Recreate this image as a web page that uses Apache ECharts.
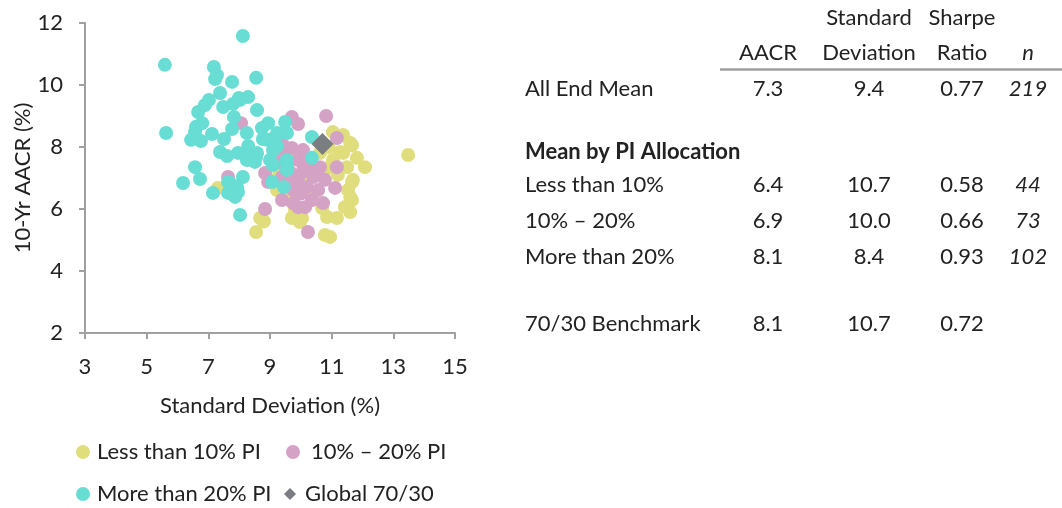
<!DOCTYPE html>
<html><head><meta charset="utf-8">
<script src="https://cdn.jsdelivr.net/npm/echarts@6/dist/echarts.min.js"></script>
<style>html,body{margin:0;padding:0;background:#fff}#c{width:1062px;height:508px}</style>
</head><body><div id="c"></div>
<script>
// ---- data ----
var xTicks = [3, 5, 7, 9, 11, 13, 15];
var yTicks = [2, 4, 6, 8, 10, 12];
var seriesNames = ['Less than 10% PI', '10% – 20% PI', 'More than 20% PI', 'Global 70/30'];
var lessThan10 = [
  [13.48,7.74],[11.04,8.48],[11.37,8.39],[11.66,8.06],[11.82,7.65],[12.08,7.35],[11.27,7.84],
  [11.04,7.58],[10.88,7.32],[11.50,7.35],[11.69,6.94],[11.53,6.61],[11.66,6.29],[11.60,5.90],
  [11.17,5.71],[10.85,5.74],[10.78,5.16],[10.95,5.10],[10.69,6.03],[10.04,5.71],[9.71,5.71],
  [9.81,5.97],[9.97,5.58],[8.68,5.71],[8.55,5.26],[9.32,6.94],[9.23,6.61],[9.49,7.32],
  [7.31,6.68],[11.37,7.81],[11.60,8.13],[11.66,6.87],[11.43,6.06],[11.53,6.03],[11.60,6.39],
  [10.62,7.81],[9.65,7.58],[10.10,6.90],[9.26,7.03],[8.80,5.60],[10.40,6.50],[11.20,7.10],
  [10.90,8.00],[9.60,6.30]
];
var pi10to20 = [
  [8.06,8.77],[9.71,8.97],[9.91,8.74],[10.82,9.00],[11.17,8.29],[9.71,7.97],[9.39,7.84],
  [9.91,7.58],[10.14,7.42],[10.52,7.16],[10.78,6.94],[11.17,7.35],[11.11,6.68],[10.40,7.03],
  [9.91,7.00],[9.65,7.19],[8.84,7.16],[8.94,6.87],[10.20,6.71],[10.56,6.61],[10.72,6.19],
  [10.36,6.29],[9.91,6.06],[9.39,6.29],[8.84,6.00],[10.23,5.26],[9.75,6.61],[7.64,7.03],
  [10.07,7.90],[10.23,7.35],[10.62,7.35],[10.04,7.19],[9.39,7.03],[9.88,6.84],[9.75,6.19],
  [10.14,6.06],[9.42,8.06],[9.55,7.35],[9.30,7.50],[10.30,7.60],[9.60,6.90],[10.00,6.50]
];
var piOver20 = [
  [8.12,11.58],[5.59,10.65],[7.18,10.58],[7.28,10.32],[7.22,10.19],[7.77,10.10],[8.55,10.23],
  [7.38,9.74],[7.99,9.58],[8.29,9.61],[7.02,9.52],[6.89,9.35],[6.67,9.13],[7.48,9.29],
  [7.80,9.39],[8.58,9.19],[7.83,8.97],[8.94,8.77],[8.74,8.61],[6.60,8.65],[6.57,8.48],
  [7.12,8.42],[7.77,8.58],[8.25,8.45],[6.44,8.23],[6.76,8.19],[7.51,8.26],[8.77,8.26],
  [9.16,8.32],[9.42,8.45],[9.49,8.81],[7.38,7.84],[7.61,7.71],[7.96,7.81],[8.29,8.03],
  [8.58,7.81],[9.16,7.97],[9.00,7.58],[8.51,7.52],[6.57,7.35],[9.55,7.58],[5.63,8.45],
  [8.03,9.52],[9.23,8.45],[9.55,8.45],[8.90,8.23],[10.36,8.32],[10.36,7.65],[8.29,7.74],
  [9.55,7.48],[9.10,7.42],[8.12,7.03],[9.07,6.87],[9.45,6.71],[6.73,6.97],[6.18,6.84],
  [7.15,6.52],[7.70,6.84],[7.96,6.55],[7.87,6.39],[8.03,5.81],[9.55,7.26],[8.25,7.58],
  [8.55,7.68],[7.93,6.71],[7.64,6.52],[6.80,8.77],[9.23,8.03],[9.10,7.90],[7.64,6.87]
];
var global7030 = [[10.7,8.1]];

// table
var tableHeader1 = ['', 'Standard', 'Sharpe', ''];
var tableHeader2 = ['AACR', 'Deviation', 'Ratio', 'n'];
var rowLabels = ['All End Mean', 'Mean by PI Allocation', 'Less than 10%', '10% – 20%', 'More than 20%', '70/30 Benchmark'];
var colAACR = ['7.3', '', '6.4', '6.9', '8.1', '8.1'];
var colSD = ['9.4', '', '10.7', '10.0', '8.4', '10.7'];
var colSharpe = ['0.77', '', '0.58', '0.66', '0.93', '0.72'];
var colN = ['219', '', '44', '73', '102', ''];

// ---- layout / style ----
var FONT = 'Lato, "Noto Sans", sans-serif';
var FS = 22;
var TXT = '#222';
var colors = ['#e0dd7d', '#d4a2c5', '#67ddd3', '#7a7d81'];
var rowY = [89, 152, 185, 221, 257, 324];
var colX = [768, 869, 962, 1028];

var graphics = [];
function txt(s, x, y, align, style) {
  var st = {text: s, x: x, y: y, fill: TXT, textAlign: align, textVerticalAlign: 'middle',
            font: (style ? style + ' ' : '') + FS + 'px ' + FONT};
  graphics.push({type: 'text', style: st, z: 10});
}
for (var i = 0; i < 4; i++) {
  if (tableHeader1[i]) txt(tableHeader1[i], colX[i], 18, 'center');
  txt(tableHeader2[i], colX[i], 53, 'center', i === 3 ? 'italic' : null);
}
graphics.push({type: 'line', shape: {x1: 720, y1: 69.5, x2: 1062, y2: 69.5},
               style: {stroke: '#a0a0a0', lineWidth: 2.5}});
for (var r = 0; r < rowLabels.length; r++) {
  txt(rowLabels[r], 525, rowY[r], 'left', r === 1 ? 'bold' : null);
  if (colAACR[r]) txt(colAACR[r], colX[0], rowY[r], 'center');
  if (colSD[r]) txt(colSD[r], colX[1], rowY[r], 'center');
  if (colSharpe[r]) txt(colSharpe[r], colX[2], rowY[r], 'center');
  if (colN[r]) txt(colN[r], colX[3], rowY[r], 'center', 'italic');
}

var legendPos = [[76, 441, 2], [286, 441, 6], [76, 483, 2], [284, 483, 4]];
var legends = seriesNames.map(function (n, i) {
  return {
    data: [{name: n, icon: i === 3 ? 'diamond' : 'circle'}],
    left: legendPos[i][0], top: legendPos[i][1], padding: 0,
    itemWidth: i === 3 ? 12 : 14, itemHeight: i === 3 ? 12 : 14, itemGap: 0,
    textStyle: {fontFamily: FONT, fontSize: FS, color: TXT, padding: [0, 0, 0, legendPos[i][2]]},
    selectedMode: false
  };
});

var chart = echarts.init(document.getElementById('c'), null, {renderer: 'canvas'});
chart.setOption({
  animation: false,
  backgroundColor: '#fff',
  color: colors,
  grid: {left: 85, right: 607, top: 23, bottom: 175, containLabel: false},
  xAxis: {
    type: 'value', min: 3, max: 15, interval: 2,
    name: 'Standard Deviation (%)', nameLocation: 'middle', nameGap: 62,
    nameTextStyle: {fontFamily: FONT, fontSize: FS, color: TXT},
    axisLine: {show: true, lineStyle: {color: '#a0a0a0', width: 2}},
    axisTick: {show: true, length: 6, lineStyle: {color: '#a0a0a0', width: 2}},
    axisLabel: {fontFamily: FONT, fontSize: FS, color: TXT, margin: 23},
    splitLine: {show: false}
  },
  yAxis: {
    type: 'value', min: 2, max: 12, interval: 2,
    name: '10-Yr AACR (%)', nameLocation: 'middle', nameGap: 35,
    nameTextStyle: {fontFamily: FONT, fontSize: FS, color: TXT},
    axisLine: {show: true, onZero: false, lineStyle: {color: '#a0a0a0', width: 2}},
    axisTick: {show: true, length: 6, lineStyle: {color: '#a0a0a0', width: 2}},
    axisLabel: {fontFamily: FONT, fontSize: FS, color: TXT, margin: 22},
    splitLine: {show: false}
  },
  legend: legends,
  graphic: graphics,
  series: [
    {name: seriesNames[0], type: 'scatter', data: lessThan10, symbolSize: 14, z: 2, itemStyle: {opacity: 1}},
    {name: seriesNames[1], type: 'scatter', data: pi10to20, symbolSize: 14, z: 3, itemStyle: {opacity: 1}},
    {name: seriesNames[2], type: 'scatter', data: piOver20, symbolSize: 14, z: 4, itemStyle: {opacity: 1}},
    {name: seriesNames[3], type: 'scatter', data: global7030, symbol: 'diamond', symbolSize: 22, z: 5, itemStyle: {opacity: 1}}
  ]
});
</script></body></html>
